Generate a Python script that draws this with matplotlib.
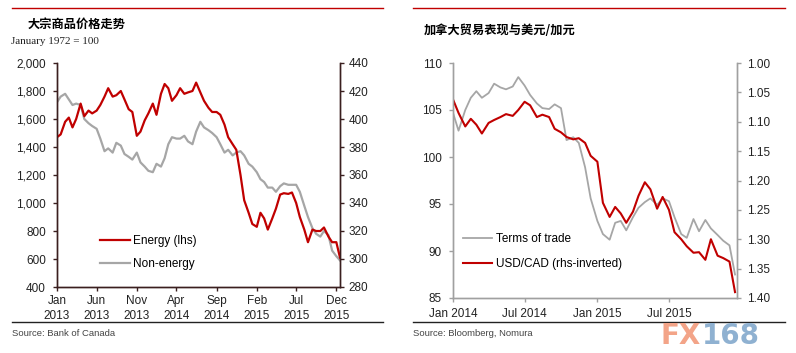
"""Commodity prices and Canada terms of trade vs USD/CAD, two-panel chart."""

import matplotlib.pyplot as plt
from matplotlib.lines import Line2D
import numpy as np
import pandas as pd

plt.rcParams["font.family"] = ["Liberation Sans", "Noto Sans CJK SC", "DejaVu Sans"]

RED = "#c00000"
GRAY = "#a6a6a6"
DARK = "#3a1f1f"

# ---- left panel: Bank of Canada commodity price index, semi-monthly ----
left_dates = pd.date_range("2013-01-01", periods=72, freq="SMS")
energy = [
    1470, 1490, 1580, 1610, 1540, 1600, 1710, 1620, 1660, 1640, 1660, 1700,
    1760, 1820, 1760, 1770, 1800, 1740, 1670, 1650, 1480, 1510, 1590, 1640,
    1710, 1630, 1780, 1850, 1820, 1730, 1770, 1820, 1780, 1790, 1800, 1860,
    1790, 1730, 1680, 1650, 1650, 1630, 1560, 1470, 1420, 1380, 1200, 1020,
    930, 850, 830, 930, 890, 810, 890, 960, 1060, 1070, 1065, 1075,
    1000, 900, 810, 720, 810, 800, 800, 825, 760, 720, 720, 610,
]
non_energy = [
    412, 416, 418, 414, 410, 411, 410, 400, 397, 395, 393, 386,
    377, 379, 376, 383, 381, 375, 373, 371, 376, 369, 366, 363,
    362, 368, 366, 372, 382, 387, 386, 386, 388, 384, 382, 391,
    398, 394, 392, 390, 387, 382, 376, 378, 374, 376, 377, 374,
    368, 366, 362, 357, 355, 351, 351, 348, 352, 354, 353, 353,
    353, 348, 338, 330, 322, 318, 316, 320, 317, 306, 302, 299,
]
left_ticks = ["2013-01-01", "2013-06-01", "2013-11-01", "2014-04-01",
              "2014-09-01", "2015-02-01", "2015-07-01", "2015-12-01"]
left_tick_labels = ["Jan\n2013", "Jun\n2013", "Nov\n2013", "Apr\n2014",
                    "Sep\n2014", "Feb\n2015", "Jul\n2015", "Dec\n2015"]

# ---- right panel: terms of trade and USD/CAD, semi-monthly ----
right_dates = pd.date_range("2014-01-01", periods=48, freq="SMS")
terms_of_trade = [
    104.7, 102.8, 105.0, 106.3, 107.0, 106.3, 106.8, 107.8, 107.4, 107.2, 107.5, 108.5,
    107.6, 106.6, 105.7, 105.2, 105.1, 105.6, 105.2, 101.8, 102.1, 101.5, 98.9, 95.6,
    93.2, 91.8, 91.2, 93.0, 93.2, 92.2, 93.6, 94.6, 95.2, 95.6, 94.9, 95.6,
    95.3, 93.6, 91.8, 91.4, 93.4, 92.1, 93.3, 92.4, 91.7, 91.1, 90.6, 87.5,
]
usdcad = [
    1.062, 1.085, 1.108, 1.095, 1.105, 1.120, 1.102, 1.097, 1.092, 1.087, 1.090, 1.080,
    1.066, 1.072, 1.092, 1.088, 1.092, 1.112, 1.118, 1.126, 1.130, 1.128, 1.136, 1.158,
    1.168, 1.238, 1.262, 1.245, 1.256, 1.272, 1.253, 1.226, 1.203, 1.215, 1.248, 1.228,
    1.250, 1.288, 1.300, 1.312, 1.323, 1.322, 1.335, 1.300, 1.328, 1.332, 1.338, 1.390,
]
right_ticks = ["2014-01-01", "2014-07-01", "2015-01-01", "2015-07-01"]
right_tick_labels = ["Jan 2014", "Jul 2014", "Jan 2015", "Jul 2015"]

W, H = 796, 353
fig = plt.figure(figsize=(W / 100, H / 100), dpi=100)


def px_axes(x0, x1, y0, y1):
    return fig.add_axes([x0 / W, 1 - y1 / H, (x1 - x0) / W, (y1 - y0) / H])


def hline(x0, x1, y, color, lw):
    fig.add_artist(Line2D([x0 / W, x1 / W], [1 - y / H, 1 - y / H],
                          color=color, lw=lw, transform=fig.transFigure))


def style_axes(ax, color, tick_size=8.5):
    ax.spines["top"].set_visible(False)
    for side in ("left", "right", "bottom"):
        ax.spines[side].set_color(color)
        ax.spines[side].set_linewidth(1.0)
    ax.tick_params(colors=color, labelcolor="#222222", labelsize=tick_size,
                   length=3, width=1.0)


# left panel
hline(12, 383, 8, RED, 1.0)
hline(12, 383, 322, "#222222", 1.0)
fig.text(28 / W, 1 - 24 / H, "大宗商品价格走势", fontsize=8.8, fontweight="bold",
         family=["Noto Sans CJK SC", "DejaVu Sans"], va="center", ha="left")
fig.text(11 / W, 1 - 41 / H, "January 1972 = 100", fontsize=8, family="Liberation Serif",
         va="center", ha="left", color="#222222")
fig.text(12 / W, 1 - 333 / H, "Source: Bank of Canada", fontsize=6.8, color="#444444",
         va="center", ha="left")

axl = px_axes(57, 340, 63, 287)
axl2 = axl.twinx()
axl.plot(left_dates, energy, color=RED, lw=1.6, label="Energy (lhs)")
axl2.plot(left_dates, non_energy, color=GRAY, lw=1.6, label="Non-energy")
axl.set_zorder(axl2.get_zorder() + 1)
axl.patch.set_visible(False)

axl.set_ylim(400, 2000)
axl.set_yticks(np.arange(400, 2001, 200))
axl.yaxis.set_major_formatter(plt.FuncFormatter(lambda v, p: f"{int(v):,}"))
axl2.set_ylim(280, 440)
axl2.set_yticks(np.arange(280, 441, 20))
axl.set_xlim(pd.Timestamp("2013-01-01"), pd.Timestamp("2015-12-15"))
axl.set_xticks(pd.to_datetime(left_ticks))
axl.set_xticklabels(left_tick_labels, linespacing=1.25)
for a in (axl, axl2):
    style_axes(a, DARK)
axl.tick_params(axis="y", pad=5)
axl.tick_params(axis="x", pad=3)
axl2.tick_params(axis="y", pad=3)

h1, l1 = axl.get_legend_handles_labels()
h2, l2 = axl2.get_legend_handles_labels()
axl.legend(h1 + h2, l1 + l2, loc="center left", bbox_to_anchor=(0.152, 0.154),
           frameon=False, fontsize=8.5, handlelength=2.5, handletextpad=0.3,
           labelspacing=0.9, borderpad=0, borderaxespad=0)

# right panel
hline(413, 785, 8, RED, 1.0)
hline(413, 785, 322, "#222222", 1.0)
fig.text(424 / W, 1 - 31 / H, "加拿大贸易表现与美元/加元", fontsize=8.8, fontweight="bold",
         family=["Noto Sans CJK SC", "DejaVu Sans"], va="center", ha="left")
fig.text(413 / W, 1 - 333 / H, "Source: Bloomberg, Nomura", fontsize=6.8, color="#444444",
         va="center", ha="left")

axr = px_axes(453, 737, 63, 298)
axr2 = axr.twinx()
axr.plot(right_dates, terms_of_trade, color=GRAY, lw=1.3, label="Terms of trade")
axr2.plot(right_dates, usdcad, color=RED, lw=1.5, label="USD/CAD (rhs-inverted)")

axr.set_ylim(85, 110)
axr.set_yticks(np.arange(85, 111, 5))
axr2.set_ylim(1.40, 1.00)
axr2.set_yticks(np.arange(1.00, 1.401, 0.05))
axr2.yaxis.set_major_formatter(plt.FuncFormatter(lambda v, p: f"{v:.2f}"))
axr.set_xlim(pd.Timestamp("2014-01-01"), pd.Timestamp("2015-12-20"))
axr.set_xticks(pd.to_datetime(right_ticks))
axr.set_xticklabels(right_tick_labels)
for a in (axr, axr2):
    style_axes(a, "#a0a0a0")
axr.tick_params(axis="y", pad=5)
axr.tick_params(axis="x", pad=4)
axr2.tick_params(axis="y", pad=4)

h1, l1 = axr.get_legend_handles_labels()
h2, l2 = axr2.get_legend_handles_labels()
axr.legend(h1 + h2, l1 + l2, loc="center left", bbox_to_anchor=(0.035, 0.198),
           frameon=False, fontsize=8.5, handlelength=2.5, handletextpad=0.3,
           labelspacing=1.05, borderpad=0, borderaxespad=0)

# watermark
fig.text(701 / W, 1 - 336 / H, "FX", fontsize=20, fontweight="bold",
         family="DejaVu Sans", color="#f3a488", va="center", ha="right")
fig.text(702 / W, 1 - 336 / H, "168", fontsize=20, fontweight="bold",
         family="DejaVu Sans", color="#8fb1d1", va="center", ha="left")

fig.savefig("out.png", dpi=100)
